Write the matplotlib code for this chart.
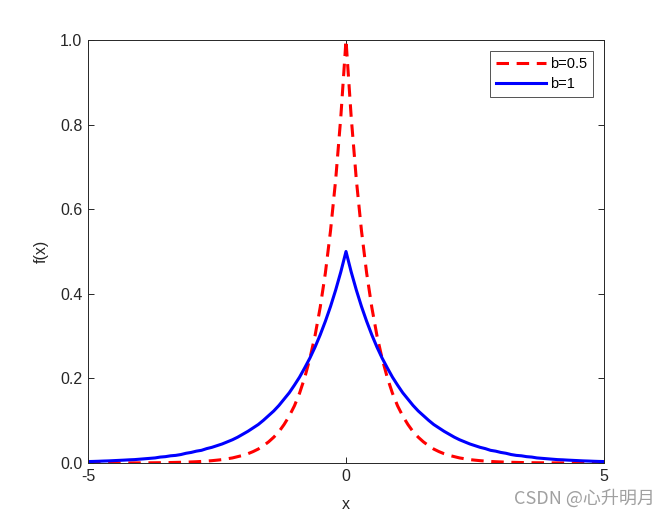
import matplotlib
matplotlib.use("Agg")
import matplotlib.pyplot as plt
import numpy as np

# half-axis sample positions (x >= 0), curves are symmetric about x = 0
x_half = [0.0, 0.1, 0.2, 0.3, 0.4, 0.5, 0.6, 0.7, 0.8, 0.9,
          1.0, 1.1, 1.2, 1.3, 1.4, 1.5, 1.6, 1.7, 1.8, 1.9,
          2.0, 2.1, 2.2, 2.3, 2.4, 2.5, 2.6, 2.7, 2.8, 2.9,
          3.0, 3.1, 3.2, 3.3, 3.4, 3.5, 3.6, 3.7, 3.8, 3.9,
          4.0, 4.1, 4.2, 4.3, 4.4, 4.5, 4.6, 4.7, 4.8, 4.9, 5.0]

# b = 0.5 (red dashed)
f_b05_half = [1.0, 0.819, 0.670, 0.549, 0.449, 0.368, 0.301, 0.247, 0.202, 0.165,
              0.135, 0.111, 0.091, 0.074, 0.061, 0.050, 0.041, 0.033, 0.027, 0.022,
              0.018, 0.015, 0.012, 0.010, 0.008, 0.0067, 0.0055, 0.0045, 0.0037, 0.0030,
              0.0025, 0.0020, 0.0017, 0.0014, 0.0011, 0.0009, 0.0007, 0.0006, 0.0005, 0.0004,
              0.0003, 0.0003, 0.0002, 0.0002, 0.0001, 0.0001, 0.0001, 0.0001, 0.0001, 0.0, 0.0]

# b = 1 (blue solid)
f_b1_half = [0.5, 0.452, 0.409, 0.370, 0.335, 0.303, 0.274, 0.248, 0.225, 0.203,
             0.184, 0.166, 0.151, 0.136, 0.123, 0.112, 0.101, 0.091, 0.083, 0.075,
             0.068, 0.061, 0.055, 0.050, 0.045, 0.041, 0.037, 0.034, 0.030, 0.028,
             0.025, 0.023, 0.020, 0.018, 0.017, 0.015, 0.014, 0.012, 0.011, 0.010,
             0.009, 0.008, 0.0075, 0.0068, 0.0062, 0.0056, 0.0050, 0.0046, 0.0041, 0.0037, 0.0034]

labels = ["b=0.5", "b=1"]
x_ticks = [-5, 0, 5]
y_ticks = [0.0, 0.2, 0.4, 0.6, 0.8, 1.0]


def mirror(xh, yh):
    xh = np.asarray(xh); yh = np.asarray(yh)
    return np.concatenate([-xh[:0:-1], xh]), np.concatenate([yh[:0:-1], yh])


plt.rcParams['font.family'] = ['Liberation Sans', 'DejaVu Sans']
plt.rcParams['lines.scale_dashes'] = False

fig = plt.figure(figsize=(6.68, 5.2), dpi=100)
ax = fig.add_axes([88 / 668, 1 - 463 / 520, (604 - 88) / 668, (463 - 40) / 520])

xr, yr = mirror(x_half, f_b05_half)
xb, yb = mirror(x_half, f_b1_half)
ax.plot(xr, yr, color='#ff0000', lw=2.2, dashes=(9, 5.5), label=labels[0])
ax.plot(xb, yb, color='#0000ff', lw=2.2, label=labels[1])

ax.set_xlim(-5, 5)
ax.set_ylim(0, 1)
ax.set_xticks(x_ticks)
ax.set_xticklabels(["-5", "0", "5"])
ax.set_yticks(y_ticks)
ax.set_yticklabels(["0.0", "0.2", "0.4", "0.6", "0.8", "1.0"])
ax.tick_params(direction='in', length=4, width=0.7, colors='#262626',
               labelsize=11.5, top=True, right=True, labelcolor='#262626', pad=4)
for s in ax.spines.values():
    s.set_linewidth(0.7)
    s.set_color('#262626')

ax.set_xlabel("x", fontsize=11.5, color='#262626', labelpad=10)
ax.set_ylabel("f(x)", fontsize=11.5, color='#262626', labelpad=8)

leg = ax.legend(loc='upper right', bbox_to_anchor=(593 / 668, 1 - 51 / 520),
                bbox_transform=fig.transFigure, fontsize=10.5, frameon=True,
                fancybox=False, edgecolor='#262626', handlelength=3.4,
                handletextpad=0.3, borderpad=0.4, labelspacing=0.45,
                borderaxespad=0)
leg.get_frame().set_linewidth(0.7)

fig.text(655 / 668, 1 - 498 / 520, "CSDN @心升明月", ha='right', va='center',
         fontsize=13, color='#a0a0a0',
         family=['Noto Sans CJK SC', 'DejaVu Sans'])

fig.savefig("out.png", dpi=100)
